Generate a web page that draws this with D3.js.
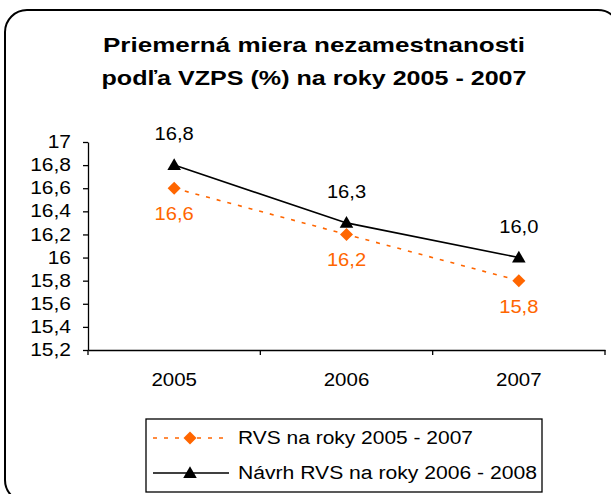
<!DOCTYPE html>
<meta charset="utf-8">
<style>
body { margin: 0; background: #fff; }
text { font-family: "Liberation Sans", Arial, sans-serif; }
.axis path, .axis line { stroke: #000; stroke-width: 1.3; }
.axis text { font-size: 17.5px; fill: #000; }
</style>
<svg width="611" height="494"></svg>
<script src="https://d3js.org/d3.v7.min.js"></script>
<script>

var years = ["2005", "2006", "2007"],
    rvs = [16.6, 16.2, 15.8],
    navrh = [16.8, 16.3, 16.0],
    yTicks = [15.2, 15.4, 15.6, 15.8, 16, 16.2, 16.4, 16.6, 16.8, 17],
    seriesNames = ["RVS na roky 2005 - 2007", "Návrh RVS na roky 2006 - 2008"];

var svg = d3.select("svg"),
    margin = {top: 142, right: 6, bottom: 144, left: 88},
    width = +svg.attr("width") - margin.left - margin.right,
    height = +svg.attr("height") - margin.top - margin.bottom;

var comma = function(d) { return d3.format(".1f")(d).replace(".", ","); };

// the original text is drawn a little wider than the font
function stretch(sel, k) {
  sel.each(function() {
    var w = this.getComputedTextLength();
    d3.select(this).attr("textLength", w * k).attr("lengthAdjust", "spacingAndGlyphs");
  });
}

// chart frame
svg.append("rect")
    .attr("x", 5).attr("y", 10)
    .attr("width", 615).attr("height", 492)
    .attr("rx", 22).attr("ry", 22)
    .attr("fill", "none").attr("stroke", "#000").attr("stroke-width", 2);

svg.append("text")
    .attr("x", 314).attr("y", 52)
    .attr("text-anchor", "middle")
    .style("font-size", "21px").style("font-weight", "bold")
    .attr("textLength", 422).attr("lengthAdjust", "spacingAndGlyphs")
    .text("Priemerná miera nezamestnanosti");
svg.append("text")
    .attr("x", 314).attr("y", 85)
    .attr("text-anchor", "middle")
    .style("font-size", "21px").style("font-weight", "bold")
    .attr("textLength", 425).attr("lengthAdjust", "spacingAndGlyphs")
    .text("podľa VZPS (%) na roky 2005 - 2007");

var x = d3.scaleBand().domain(years).range([0, width]),
    y = d3.scaleLinear().domain([15.2, 17]).range([height, 0]);

var g = svg.append("g")
    .attr("transform", "translate(" + margin.left + "," + margin.top + ")");

g.append("g")
    .attr("class", "axis axis--y")
    .call(d3.axisLeft(y).tickValues(yTicks).tickSize(5).tickSizeOuter(0)
      .tickFormat(function(d) { return String(d).replace(".", ","); }))
    .selectAll("text").attr("x", -17).call(stretch, 1.2);

var xAxis = g.append("g")
    .attr("class", "axis axis--x")
    .attr("transform", "translate(0," + height + ")")
    .call(d3.axisBottom(x).tickSize(0).tickPadding(24));
xAxis.selectAll("text").call(stretch, 1.17);
xAxis.selectAll(".sep")
    .data([0, 1, 2, 3])
  .enter().append("line")
    .attr("x1", function(i) { return i * x.step(); })
    .attr("x2", function(i) { return i * x.step(); })
    .attr("y1", 0).attr("y2", 5)
    .attr("stroke", "#000").attr("stroke-width", 1.3);

var cx = function(d, i) { return x(years[i]) + x.bandwidth() / 2; };

var line = d3.line().x(cx).y(function(d) { return y(d); });

var orange = "#ff6600";

g.append("path").datum(rvs)
    .attr("d", line).attr("fill", "none")
    .attr("stroke", orange).attr("stroke-width", 1.6)
    .attr("stroke-dasharray", "4,7");

g.append("path").datum(navrh)
    .attr("d", line).attr("fill", "none")
    .attr("stroke", "#000").attr("stroke-width", 1.6);

var diamond = d3.symbol().type(d3.symbolSquare).size(85),
    triangle = d3.symbol().type(d3.symbolTriangle).size(80);

g.selectAll(".dia").data(rvs).enter().append("path")
    .attr("d", diamond)
    .attr("transform", function(d, i) { return "translate(" + cx(d, i) + "," + y(d) + ") rotate(45)"; })
    .attr("fill", orange);

g.selectAll(".tri").data(navrh).enter().append("path")
    .attr("d", triangle)
    .attr("transform", function(d, i) { return "translate(" + cx(d, i) + "," + (y(d) + 1) + ")"; })
    .attr("fill", "#000");

g.selectAll(".lab1").data(navrh).enter().append("text")
    .attr("x", cx).attr("y", function(d) { return y(d) - 25; })
    .attr("text-anchor", "middle").style("font-size", "17.5px").attr("fill", "#000")
    .text(comma)
    .call(stretch, 1.15);

g.selectAll(".lab2").data(rvs).enter().append("text")
    .attr("x", cx).attr("y", function(d) { return y(d) + 32; })
    .attr("text-anchor", "middle").style("font-size", "17.5px").attr("fill", orange)
    .text(comma)
    .call(stretch, 1.15);

// legend
var legend = svg.append("g").attr("transform", "translate(146,419)");
legend.append("rect")
    .attr("width", 396).attr("height", 73)
    .attr("fill", "#fff").attr("stroke", "#000").attr("stroke-width", 1.3);

var rows = legend.selectAll(".row").data(seriesNames).enter().append("g")
    .attr("transform", function(d, i) { return "translate(0," + (19 + i * 35) + ")"; });

rows.append("line")
    .attr("x1", 7).attr("x2", 83)
    .attr("stroke", function(d, i) { return i ? "#000" : orange; })
    .attr("stroke-width", 1.6)
    .attr("stroke-dasharray", function(d, i) { return i ? null : "4,7"; });

rows.append("path")
    .attr("d", function(d, i) { return i ? triangle() : diamond(); })
    .attr("transform", function(d, i) { return i ? "translate(44,1)" : "translate(44,0) rotate(45)"; })
    .attr("fill", function(d, i) { return i ? "#000" : orange; });

rows.append("text")
    .attr("x", 92).attr("dy", "0.36em")
    .style("font-size", "18px")
    .attr("textLength", function(d, i) { return i ? 299 : 235; })
    .attr("lengthAdjust", "spacingAndGlyphs")
    .text(function(d) { return d; });

</script>
